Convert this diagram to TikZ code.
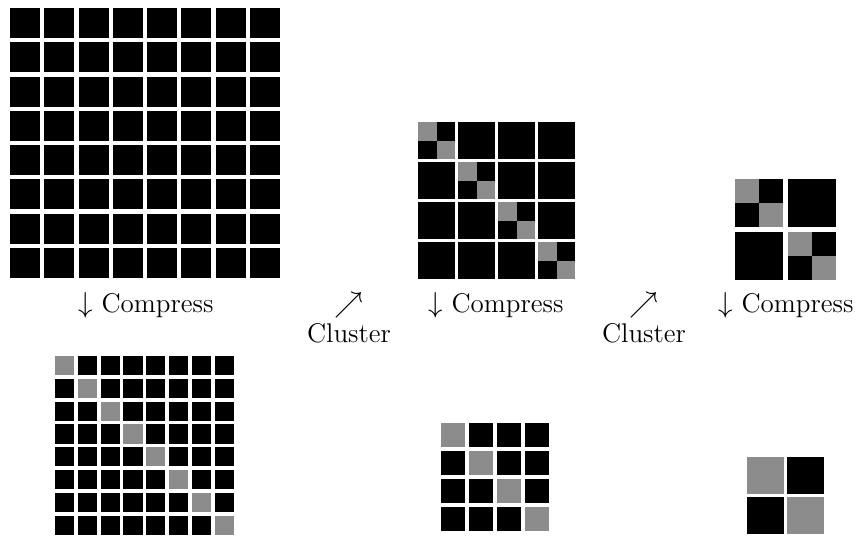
\documentclass[tikz,border=0pt]{standalone}
\usetikzlibrary{positioning}

\begin{document}
\begin{tikzpicture}[x=0.5pt, y=-0.5pt]

\tikzset{
  cell/.style={fill=black},
  hot/.style={fill=black!45},
  lbl/.style={font=\fontsize{13.5}{16}\selectfont, inner sep=0pt, anchor=base}
}

\useasboundingbox (0,0) rectangle (858,536);

% ==========================
% Top row: clustered matrices
% ==========================
% 8x8, nothing grouped yet
\foreach \i in {0,...,7}
  \foreach \j in {0,...,7}
    \fill[cell] (10+\i*34.29, 8+\j*34.29) rectangle +(30,30);

% 4x4, pairs on the diagonal
\foreach \i in {0,...,3}
  \foreach \j in {0,...,3}
    \fill[cell] (418+\i*40, 122+\j*40) rectangle +(37,37);
\foreach \k in {0,...,3} {
  \fill[hot] (418+\k*40, 122+\k*40) rectangle +(18.5,18.5);
  \fill[hot] (436.5+\k*40, 140.5+\k*40) rectangle +(18.5,18.5);
}

% 2x2, pairs on the diagonal
\foreach \i in {0,1}
  \foreach \j in {0,1}
    \fill[cell] (735+\i*53, 179+\j*53) rectangle +(48,48);
\foreach \k in {0,1} {
  \fill[hot] (735+\k*53, 179+\k*53) rectangle +(24,24);
  \fill[hot] (759+\k*53, 203+\k*53) rectangle +(24,24);
}

% ==========================
% Bottom row: compressed matrices
% ==========================
\foreach \i in {0,...,7}
  \foreach \j in {0,...,7}
    \fill[cell] (55+\i*22.8, 356+\j*22.8) rectangle +(19.2,19.2);
\foreach \k in {0,...,7}
  \fill[hot] (55+\k*22.8, 356+\k*22.8) rectangle +(19.2,19.2);

\foreach \i in {0,...,3}
  \foreach \j in {0,...,3}
    \fill[cell] (441+\i*28, 423+\j*28) rectangle +(24,24);
\foreach \k in {0,...,3}
  \fill[hot] (441+\k*28, 423+\k*28) rectangle +(24,24);

\foreach \i in {0,1}
  \foreach \j in {0,1}
    \fill[cell] (747+\i*40, 457+\j*40) rectangle +(37,37);
\foreach \k in {0,1}
  \fill[hot] (747+\k*40, 457+\k*40) rectangle +(37,37);

% ==========================
% Labels
% ==========================
\node[lbl] (comp1) at (146,312) {$\downarrow$ Compress};
\node[lbl] (comp2) at (496,312) {$\downarrow$ Compress};
\node[lbl] (comp3) at (786,312) {$\downarrow$ Compress};

\node[lbl] (up1) at (349,312) {$\nearrow$};
\node[lbl, below=2.5pt of up1] (clus1) {Cluster};
\node[lbl] (up2) at (644,312) {$\nearrow$};
\node[lbl, below=2.5pt of up2] (clus2) {Cluster};

\end{tikzpicture}
\end{document}
